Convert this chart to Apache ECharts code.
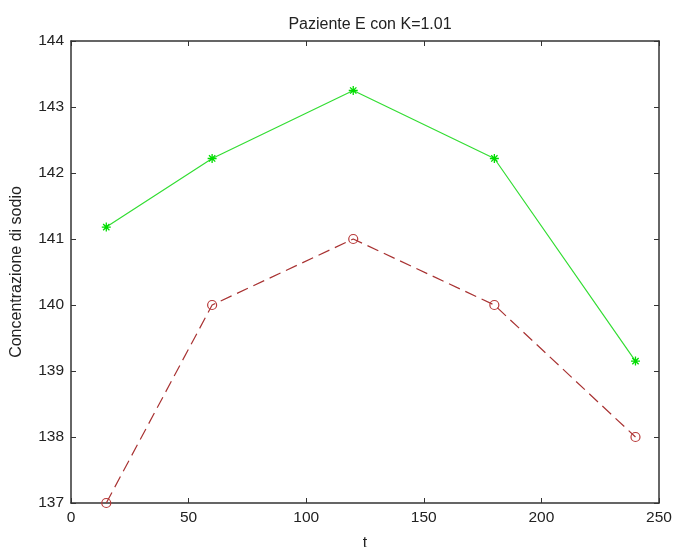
<!doctype html>
<html>
<head>
<meta charset="utf-8">
<script src="https://cdn.jsdelivr.net/npm/echarts@6/dist/echarts.min.js"></script>
<style>
  html, body { margin: 0; padding: 0; background: #fff; }
  #chart { width: 673px; height: 547px; }
</style>
</head>
<body>
<div id="chart"></div>
<script>
    // dati
    let tempi = [15, 60, 120, 180, 240];
    let modello = [141.18, 142.22, 143.25, 142.22, 139.15];
    let misure = [137, 140, 141, 140, 138];

    let asterisco = 'path://M0,5L10,5M5,0L5,10M1.5,1.5L8.5,8.5M8.5,1.5L1.5,8.5';
    let font = 'Liberation Sans';

    let chart = echarts.init(document.getElementById('chart'));

    let assex = function (show) {
        return {
            type: 'value', min: 0, max: 250, interval: 50,
            position: show ? 'bottom' : 'top',
            axisLine: {show: true, onZero: false, lineStyle: {color: '#333', width: 1.5}},
            axisTick: {show: true, inside: true, length: 5, lineStyle: {color: '#333'}},
            axisLabel: {show: show, color: '#222', fontFamily: font, fontSize: 15.5, margin: 7},
            splitLine: {show: false},
            name: show ? 't' : '', nameLocation: 'middle', nameGap: 33,
            nameTextStyle: {color: '#222', fontFamily: font, fontSize: 16}
        };
    };
    let assey = function (show) {
        return {
            type: 'value', min: 137, max: 144, interval: 1,
            position: show ? 'left' : 'right',
            axisLine: {show: true, onZero: false, lineStyle: {color: '#333', width: 1.5}},
            axisTick: {show: true, inside: true, length: 5, lineStyle: {color: '#333'}},
            axisLabel: {show: show, color: '#222', fontFamily: font, fontSize: 15.5, margin: 7},
            splitLine: {show: false},
            name: show ? 'Concentrazione di sodio' : '', nameLocation: 'middle', nameGap: 46,
            nameTextStyle: {color: '#222', fontFamily: font, fontSize: 16}
        };
    };

    chart.setOption({
        animation: false,
        title: {
            text: 'Paziente E con K=1.01',
            left: 365, top: 12, textAlign: 'center',
            textStyle: {color: '#222', fontFamily: font, fontSize: 16, fontWeight: 'normal'}
        },
        grid: {left: 71, right: 14, top: 41, bottom: 44, containLabel: false, outerBoundsMode: 'none'},
        xAxis: [assex(true), assex(false)],
        yAxis: [assey(true), assey(false)],
        series: [
            {
                name: 'modello',
                type: 'line',
                data: tempi.map((t, i) => [t, modello[i]]),
                lineStyle: {color: '#33dd33', width: 1.2},
                symbol: asterisco,
                symbolSize: 9,
                itemStyle: {color: '#00dd00', borderColor: '#00dd00', borderWidth: 1.3}
            },
            {
                name: 'misure',
                type: 'line',
                data: tempi.map((t, i) => [t, misure[i]]),
                lineStyle: {color: '#a83232', width: 1.2, type: [12, 6]},
                symbol: 'circle',
                symbolSize: 9,
                itemStyle: {color: 'transparent', borderColor: '#b83a3a', borderWidth: 1.2}
            }
        ]
    });

    window.onresize = function () {
        chart.resize();
    };
</script>
</body>
</html>
